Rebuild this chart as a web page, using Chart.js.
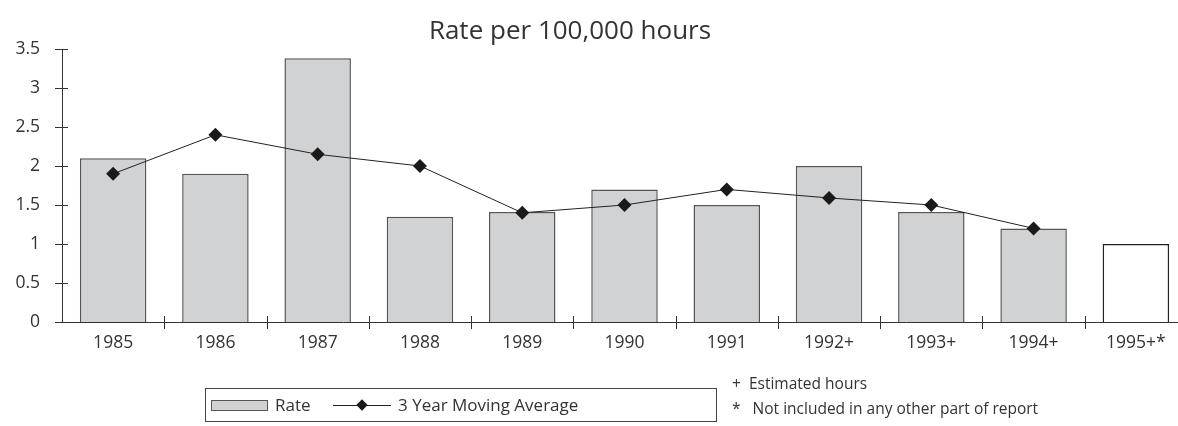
<!DOCTYPE html>
<html>
<head>
<meta charset="utf-8">
<script src="https://cdn.jsdelivr.net/npm/chart.js@4/dist/chart.umd.min.js"></script>
<style>
  html, body { margin: 0; padding: 0; background: #fff; }
  #wrap { position: relative; width: 1178px; height: 426px; overflow: hidden; font-family: "Open Sans", sans-serif; color: #333; }
  #rateChart { position: absolute; left: 0; top: 0; }
  .title { position: absolute; left: 370px; width: 400px; top: 12px; text-align: center; font-size: 26px; line-height: 34px; }
  .legend { position: absolute; left: 205px; top: 388px; width: 512px; height: 34px; border: 1px solid #444; box-sizing: border-box; font-size: 17px; }
  .legend span { position: absolute; top: 4px; }
  .swatch { position: absolute; left: 5px; top: 11px; width: 55px; height: 9px; background: #d1d2d4; border: 1px solid #555; }
  .lline { position: absolute; left: 127px; top: 16px; width: 58px; height: 1px; background: #222; }
  .ldiam { position: absolute; left: 152px; top: 12px; width: 8px; height: 8px; background: #1a1a1a; transform: rotate(45deg); }
  .note { position: absolute; left: 732px; font-size: 15.5px; }
</style>
</head>
<body>
<div id="wrap">
  <canvas id="rateChart" width="1194" height="426"></canvas>
  <div class="title">Rate per 100,000 hours</div>
  <div class="legend">
    <div class="swatch"></div><span style="left:69px">Rate</span>
    <div class="lline"></div><div class="ldiam"></div><span style="left:192px">3 Year Moving Average</span>
  </div>
  <div class="note" style="top:372px">+&nbsp;&nbsp;Estimated hours</div>
  <div class="note" style="top:397px">*&nbsp;&nbsp;&nbsp;Not included in any other part of report</div>
</div>
<script>
(function () {
  'use strict';

  const years = ['1985', '1986', '1987', '1988', '1989', '1990', '1991', '1992+', '1993+', '1994+', '1995+*'];
  const rate = [2.1, 1.9, 3.38, 1.35, 1.41, 1.7, 1.5, 2.0, 1.41, 1.2, 1.0];
  const movingAvg = [1.9, 2.4, 2.15, 2.0, 1.4, 1.5, 1.7, 1.59, 1.5, 1.2, null];
  const yTicks = [0, 0.5, 1, 1.5, 2, 2.5, 3, 3.5];

  const barFill = rate.map((v, i) => i === rate.length - 1 ? '#ffffff' : '#d1d2d4');
  const barEdge = rate.map((v, i) => i === rate.length - 1 ? '#222' : '#555');

  // short tick marks that cross the axis lines
  const crossTicks = {
    id: 'crossTicks',
    afterDraw(chart) {
      const ctx = chart.ctx;
      const x = chart.scales.x, y = chart.scales.y;
      ctx.save();
      ctx.strokeStyle = '#333';
      ctx.lineWidth = 1;
      ctx.beginPath();
      yTicks.forEach(t => {
        const py = Math.round(y.getPixelForValue(t)) + 0.5;
        ctx.moveTo(x.left - 7, py);
        ctx.lineTo(x.left + 6, py);
      });
      const w = (x.right - x.left) / years.length;
      for (let i = 1; i <= years.length; i++) {
        const px = Math.round(x.left + i * w) + 0.5;
        ctx.moveTo(px, y.bottom - 6);
        ctx.lineTo(px, y.bottom + 7);
      }
      ctx.stroke();
      ctx.restore();
    }
  };

  const ctx = document.getElementById('rateChart').getContext('2d');
  window.rateChart = new Chart(ctx, {
    data: {
      labels: years,
      datasets: [{
        type: 'line',
        label: '3 Year Moving Average',
        data: movingAvg,
        borderColor: '#222',
        borderWidth: 1,
        backgroundColor: '#1a1a1a',
        pointStyle: 'rectRot',
        pointRadius: 7,
        pointBorderWidth: 0,
        tension: 0,
        spanGaps: false,
        order: 0
      }, {
        type: 'bar',
        label: 'Rate',
        data: rate,
        backgroundColor: barFill,
        borderColor: barEdge,
        borderWidth: 1.5,
        barPercentage: 0.65,
        categoryPercentage: 1,
        order: 1
      }]
    },
    options: {
      responsive: false,
      animation: false,
      layout: { padding: { left: 0, right: 0, top: 49, bottom: 74 } },
      scales: {
        x: {
          offset: true,
          grid: { display: false },
          border: { display: true, color: '#333', width: 1 },
          ticks: { color: '#333', font: { family: 'Open Sans', size: 17.5 }, padding: 3, maxRotation: 0, autoSkip: false },
          afterFit: s => { s.height = 30; }
        },
        y: {
          min: 0,
          max: 3.5,
          grid: { display: false },
          border: { display: true, color: '#333', width: 1 },
          ticks: {
            stepSize: 0.5,
            color: '#333',
            font: { family: 'Open Sans', size: 17.5 },
            padding: 14,
            callback: v => String(v)
          },
          afterFit: s => { s.width = 62; }
        }
      },
      plugins: {
        legend: { display: false },
        tooltip: { enabled: false },
        title: { display: false }
      }
    },
    plugins: [crossTicks]
  });
})();
</script>
</body>
</html>
